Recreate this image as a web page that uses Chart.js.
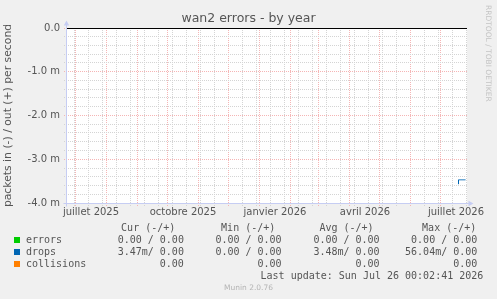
<!DOCTYPE html>
<html><head><meta charset="utf-8">
<script src="https://cdn.jsdelivr.net/npm/chart.js@4.4.0/dist/chart.umd.min.js"></script>
<style>
html,body{margin:0;padding:0;background:#f0f0f0;}
#wrap{position:relative;width:497px;height:299px;overflow:hidden;}
canvas{position:absolute;left:0;top:0;}
.t{position:absolute;font-family:"DejaVu Sans Mono",monospace;font-size:10px;line-height:12px;color:#555;white-space:pre;}
.sq{position:absolute;width:6px;height:6px;}
.wm{position:absolute;left:483px;top:5px;writing-mode:vertical-rl;font-family:"DejaVu Sans",sans-serif;font-size:7.5px;line-height:10px;color:#c4c4c4;white-space:pre;}
.ft{position:absolute;left:0;top:283px;width:497px;text-align:center;font-family:"DejaVu Sans",sans-serif;font-size:7.5px;line-height:10px;color:#b4b4b4;}
</style></head>
<body><div id="wrap"><canvas id="c" width="497" height="299"></canvas></div>
<script>
// ---- data ----
const chartTitle = 'wan2 errors - by year';
const yAxisTitle = 'packets in (-) / out (+) per second';
const xTickLabels = ['juillet 2025', 'octobre 2025', 'janvier 2026', 'avril 2026', 'juillet 2026'];
const xTickDates = ['2025-07-01', '2025-10-01', '2026-01-01', '2026-04-01', '2026-07-01'];
const yTickValues = [0, -0.001, -0.002, -0.003, -0.004];
const yTickLabels = ['0.0', '-1.0 m', '-2.0 m', '-3.0 m', '-4.0 m'];
const sampleDates = ['2026-07-19', '2026-07-20', '2026-07-21', '2026-07-22', '2026-07-23', '2026-07-24', '2026-07-25', '2026-07-26'];
const errorsIn = [0, 0, 0, 0, 0, 0, 0, 0];
const dropsIn = [-0.00357, -0.00347, -0.00347, -0.00347, -0.00347, -0.00347, -0.00347, -0.00347];
const collisionsVal = [0, 0, 0, 0, 0, 0, 0, 0];
const seriesNames = ['errors', 'drops', 'collisions'];
const seriesColors = ['#00cc00', '#0066b3', '#ff8000'];
const colHeaders = ['Cur (-/+)', 'Min (-/+)', 'Avg (-/+)', 'Max (-/+)'];
const curCol = ['0.00 / 0.00', '3.47m/ 0.00', '0.00'];
const minCol = ['0.00 / 0.00', '0.00 / 0.00', '0.00'];
const avgCol = ['0.00 / 0.00', '3.48m/ 0.00', '0.00'];
const maxCol = ['0.00 / 0.00', '56.04m/ 0.00', '0.00'];
const lastUpdate = 'Last update: Sun Jul 26 00:02:41 2026';
const footerText = 'Munin 2.0.76';
const watermarkText = 'RRDTOOL / TOBI OETIKER';

// ---- helpers ----
const ORIGIN = Date.UTC(2025, 6, 1);
const dayOf = s => (Date.parse(s + 'T00:00:00Z') - ORIGIN) / 86400000;
const X_MIN = -9.5, X_MAX = 391.5;

const kind = new Map();
for (let y = 2025, m = 6; y < 2026 || m <= 6; ) {
  const d = (Date.UTC(y, m, 1) - ORIGIN) / 86400000;
  kind.set(d, 'major');
  m++; if (m > 11) { m = 0; y++; }
}
for (let d = dayOf('2025-06-30'); d <= X_MAX; d += 14) { if (d >= X_MIN && !kind.has(d)) kind.set(d, 'minor'); }
const labelAt = new Map();
xTickDates.forEach((s, i) => { const v = dayOf(s) + 15.5; kind.set(v, 'label'); labelAt.set(v, xTickLabels[i]); });
const xTickVals = [...kind.keys()].filter(v => v > X_MIN && v < X_MAX).sort((a, b) => a - b);
const xTickOrdered = xTickVals.filter(v => kind.get(v) !== 'major').concat(xTickVals.filter(v => kind.get(v) === 'major'));

const yGrid = [];
for (let k = 20; k >= 0; k--) yGrid.push(-k / 5000);
const yLabel = v => { const i = yTickValues.findIndex(t => Math.abs(t - v) < 1e-9); return i >= 0 ? yTickLabels[i] : ''; };
const isYMajor = v => yTickValues.some(t => Math.abs(t - v) < 1e-9);

const RED = '#f5b5b5', GRAY = '#d4d4d4', AXIS = '#c6cdf3';
const xGridColor = c => { const k = kind.get(c.tick && c.tick.value); return k === 'major' ? RED : (k === 'minor' ? GRAY : 'rgba(0,0,0,0)'); };
const yGridColor = c => (c.tick && isYMajor(c.tick.value)) ? RED : GRAY;

const sampleDays = sampleDates.map(dayOf);
const mk = (arr) => sampleDays.map((d, i) => ({ x: d, y: arr[i] }));

const bgPlugin = {
  id: 'bg',
  beforeDraw(chart) {
    const { ctx, chartArea: a } = chart;
    ctx.save(); ctx.fillStyle = '#ffffff';
    ctx.fillRect(a.left, a.top, a.right - a.left, a.bottom - a.top + 1);
    ctx.restore();
  },
  afterDatasetsDraw(chart) {
    const { ctx, chartArea: a } = chart;
    const y0 = Math.round(chart.scales.y.getPixelForValue(0)) + 0.5;
    ctx.save(); ctx.strokeStyle = '#000'; ctx.lineWidth = 1;
    ctx.beginPath(); ctx.moveTo(a.left, y0); ctx.lineTo(a.right, y0); ctx.stroke();
    ctx.restore();
  },
  afterDraw(chart) {
    const { ctx, chartArea: a } = chart;
    const xl = Math.round(a.left) + 0.5;
    const yb = Math.round(chart.scales.y.getPixelForValue(-0.004)) + 0.5;
    ctx.save(); ctx.strokeStyle = AXIS; ctx.fillStyle = AXIS; ctx.lineWidth = 1;
    ctx.beginPath(); ctx.moveTo(xl, yb + 3); ctx.lineTo(xl, a.top - 3); ctx.stroke();
    ctx.beginPath(); ctx.moveTo(xl - 3, yb); ctx.lineTo(a.right + 2, yb); ctx.stroke();
    ctx.beginPath(); ctx.moveTo(xl - 2.7, a.top - 2.5); ctx.lineTo(xl + 2.7, a.top - 2.5); ctx.lineTo(xl, a.top - 7.5); ctx.closePath(); ctx.fill();
    ctx.beginPath(); ctx.moveTo(a.right + 1.5, yb - 2.7); ctx.lineTo(a.right + 1.5, yb + 2.7); ctx.lineTo(a.right + 6.5, yb); ctx.closePath(); ctx.fill();
    ctx.restore();
  }
};

new Chart(document.getElementById('c'), {
  type: 'line',
  data: {
    datasets: [
      { label: seriesNames[0], data: mk(errorsIn), borderColor: seriesColors[0], borderWidth: 1, pointRadius: 0, stepped: 'after', fill: false },
      { label: seriesNames[2], data: mk(collisionsVal), borderColor: seriesColors[2], borderWidth: 1, pointRadius: 0, stepped: 'after', fill: false },
      { label: seriesNames[1], data: mk(dropsIn), borderColor: seriesColors[1], borderWidth: 1, pointRadius: 0, stepped: 'after', fill: false }
    ]
  },
  options: {
    responsive: false, animation: false, devicePixelRatio: 1,
    layout: { padding: { left: 0, right: 0, top: 0, bottom: 80 } },
    plugins: {
      legend: { display: false }, tooltip: { enabled: false },
      title: { display: true, text: chartTitle, color: '#555', font: { family: 'DejaVu Sans', size: 12.5, weight: 'normal' }, padding: { top: 11.4, bottom: 1.6 } }
    },
    scales: {
      x: {
        type: 'linear', min: X_MIN, max: X_MAX,
        afterFit(s) { s.height = 16; },
        afterBuildTicks(s) { s.ticks = xTickOrdered.map(v => ({ value: v })); },
        ticks: { autoSkip: false, maxRotation: 0, minRotation: 0, color: '#555', font: { family: 'DejaVu Sans', size: 10 }, padding: 0,
                 callback: v => labelAt.get(v) || '' },
        grid: { color: xGridColor, tickColor: xGridColor, lineWidth: 1, tickLength: 3, tickBorderDash: [1, 1] },
        border: { display: false, dash: [1, 1] }
      },
      y: {
        min: -0.004, max: 0,
        afterFit(s) { s.width = 66; },
        afterBuildTicks(s) { s.ticks = yGrid.map(v => ({ value: v })); },
        ticks: { autoSkip: false, color: '#555', font: { family: 'DejaVu Sans', size: 10 }, padding: 4, callback: v => yLabel(v) },
        grid: { color: yGridColor, tickColor: yGridColor, lineWidth: 1, tickLength: 2, tickBorderDash: [1, 1] },
        border: { display: false, dash: [1, 1] },
        title: { display: true, text: yAxisTitle, color: '#555', font: { family: 'DejaVu Sans', size: 10.8 }, padding: { top: 1.8, bottom: 0 } }
      },
      yR: {
        position: 'right', display: true,
        afterFit(s) { s.width = 30; },
        ticks: { display: false }, grid: { display: false, drawTicks: false }, border: { display: false }
      }
    }
  },
  plugins: [bgPlugin]
});

// ---- legend (real text) ----
const wrap = document.getElementById('wrap');
function addDiv(cls, txt, style) { const d = document.createElement('div'); d.className = cls; d.textContent = txt; Object.assign(d.style, style); wrap.appendChild(d); return d; }
const headerLeft = [121.1, 221.1, 319.4, 422.1];
const colRight = [183.9, 281.6, 379.6, 477.3];
const rowCenter = [240, 252, 264];
colHeaders.forEach((h, i) => addDiv('t', h, { left: headerLeft[i] + 'px', top: (228 - 6) + 'px' }));
const cols = [curCol, minCol, avgCol, maxCol];
seriesNames.forEach((n, r) => {
  const c = rowCenter[r];
  addDiv('sq', '', { left: '14px', top: (c - 3) + 'px', background: seriesColors[r] });
  addDiv('t', n, { left: '26px', top: (c - 6) + 'px' });
  cols.forEach((col, j) => addDiv('t', col[r], { right: (497 - colRight[j]) + 'px', top: (c - 6) + 'px' }));
});
addDiv('t', lastUpdate, { right: (497 - 483.3) + 'px', top: (276 - 6) + 'px' });
addDiv('ft', footerText, {});
addDiv('wm', watermarkText, {});
</script>
</body></html>
